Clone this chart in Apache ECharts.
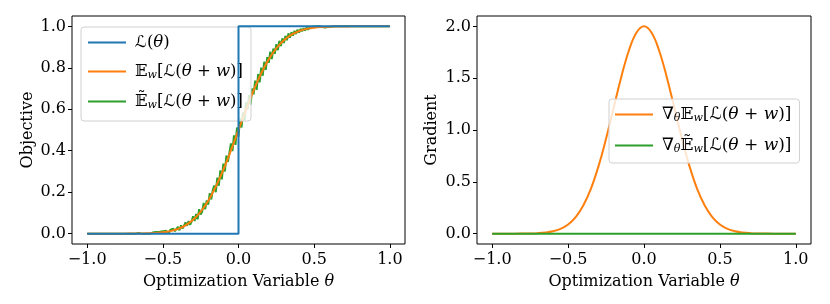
<!DOCTYPE html>
<html><head><meta charset="utf-8">
<script src="https://cdn.jsdelivr.net/npm/echarts@6/dist/echarts.min.js"></script>
<style>html,body{margin:0;padding:0;background:#fff}#c{width:830px;height:304px}</style>
</head><body><div id="c"></div>
<script>
// ---- data ----
var xTicks = [-1.0, -0.5, 0.0, 0.5, 1.0];
var yTicksLeft = [0.0, 0.2, 0.4, 0.6, 0.8, 1.0];
var yTicksRight = [0.0, 0.5, 1.0, 1.5, 2.0];

var stepX = [-1.0, 0.0, 0.0, 1.0];
var stepY = [0.0, 0.0, 1.0, 1.0];

var smoothX = [-1.0,-0.95,-0.9,-0.85,-0.8,-0.75,-0.7,-0.65,-0.6,-0.55,-0.5,-0.45,-0.4,-0.35,-0.3,-0.25,-0.2,-0.15,-0.1,-0.05,0.0,
  0.05,0.1,0.15,0.2,0.25,0.3,0.35,0.4,0.45,0.5,0.55,0.6,0.65,0.7,0.75,0.8,0.85,0.9,0.95,1.0];
var smoothY = [0,0,0,0,0,0,0.0002,0.0006,0.0013,0.0030,0.0062,0.0122,0.0228,0.0401,0.0668,0.1056,0.1587,0.2266,0.3085,0.4013,0.5,
  0.5987,0.6915,0.7734,0.8413,0.8944,0.9332,0.9599,0.9772,0.9878,0.9938,0.9970,0.9987,0.9994,0.9998,1,1,1,1,1,1];

var noisyX = [-1.0,
  -0.70,-0.69,-0.68,-0.67,-0.66,-0.65,-0.64,-0.63,-0.62,-0.61,
  -0.60,-0.59,-0.58,-0.57,-0.56,-0.55,-0.54,-0.53,-0.52,-0.51,
  -0.50,-0.49,-0.48,-0.47,-0.46,-0.45,-0.44,-0.43,-0.42,-0.41,
  -0.40,-0.39,-0.38,-0.37,-0.36,-0.35,-0.34,-0.33,-0.32,-0.31,
  -0.30,-0.29,-0.28,-0.27,-0.26,-0.25,-0.24,-0.23,-0.22,-0.21,
  -0.20,-0.19,-0.18,-0.17,-0.16,-0.15,-0.14,-0.13,-0.12,-0.11,
  -0.10,-0.09,-0.08,-0.07,-0.06,-0.05,-0.04,-0.03,-0.02,-0.01,
  0.00,0.01,0.02,0.03,0.04,0.05,0.06,0.07,0.08,0.09,
  0.10,0.11,0.12,0.13,0.14,0.15,0.16,0.17,0.18,0.19,
  0.20,0.21,0.22,0.23,0.24,0.25,0.26,0.27,0.28,0.29,
  0.30,0.31,0.32,0.33,0.34,0.35,0.36,0.37,0.38,0.39,
  0.40,0.41,0.42,0.43,0.44,0.45,0.46,0.47,0.48,0.49,
  0.50,0.51,0.52,0.53,0.54,0.55,0.56,0.57,0.58,0.59,
  0.60,0.61,0.62,0.63,0.64,0.65,0.66,0.67,0.68,0.69,
  0.70,1.0];
var noisyY = [0.000,
  0.000,0.002,0.000,0.000,0.003,0.001,0.000,0.004,0.000,0.002,
  0.000,0.005,0.001,0.000,0.007,0.002,0.008,0.000,0.009,0.003,
  0.011,0.002,0.014,0.006,0.004,0.019,0.010,0.024,0.012,0.017,
  0.033,0.016,0.040,0.024,0.030,0.054,0.038,0.061,0.042,0.058,
  0.084,0.061,0.095,0.069,0.118,0.092,0.107,0.148,0.118,0.160,
  0.140,0.195,0.165,0.210,0.232,0.200,0.270,0.231,0.305,0.262,
  0.338,0.300,0.377,0.346,0.352,0.435,0.398,0.474,0.428,0.512,
  0.468,0.556,0.512,0.585,0.548,0.634,0.600,0.668,0.622,0.700,
  0.672,0.738,0.694,0.770,0.730,0.801,0.762,0.829,0.790,0.852,
  0.824,0.878,0.842,0.893,0.868,0.914,0.885,0.930,0.905,0.942,
  0.920,0.954,0.933,0.966,0.945,0.972,0.955,0.978,0.963,0.984,
  0.970,0.988,0.976,0.991,0.980,0.995,0.984,0.996,0.987,0.998,
  0.989,0.999,0.992,1.000,0.994,0.998,1.000,0.995,1.000,0.997,
  1.000,0.998,1.000,1.000,0.997,1.000,0.999,1.000,0.998,1.000,
  1.000,1.000];

var gradX = smoothX;
var gradY = [0,0,0,0,0.0007,0.0018,0.0044,0.0102,0.0222,0.0456,0.0879,0.159,0.271,0.432,0.649,0.916,1.213,1.510,1.765,1.938,2.0,
  1.938,1.765,1.510,1.213,0.916,0.649,0.432,0.271,0.159,0.0879,0.0456,0.0222,0.0102,0.0044,0.0018,0.0007,0,0,0,0];
var gradNoisyX = [-1.0, 1.0];
var gradNoisyY = [0.0, 0.0];

// ---- build ----
function pairs(xs, ys){ return xs.map(function(x,i){ return [x, ys[i]]; }); }
var FONT = '"DejaVu Serif","DejaVu Sans","Noto Sans",serif';
var BLUE = '#1f77b4', ORANGE = '#ff7f0e', GREEN = '#2ca02c';
function fmt(v){ return (v < 0 ? '\u2212' : '') + Math.abs(v).toFixed(1); }
var nameRich = {i:{fontFamily:FONT, fontSize:16, fontStyle:'italic', color:'#000'}};

function xAx(i){
  return {type:'value', gridIndex:i, min:-1.1, max:1.1,
    name:'Optimization Variable {i|\u03b8}', nameLocation:'middle', nameGap:30,
    nameTextStyle:{fontFamily:FONT, fontSize:16, color:'#000', rich:nameRich},
    axisLine:{show:false, onZero:false}, splitLine:{show:false},
    axisTick:{show:true, inside:false, length:4, lineStyle:{color:'#000'}, customValues:xTicks},
    axisLabel:{fontFamily:FONT, fontSize:16, color:'#000', margin:8, customValues:xTicks, formatter:fmt}};
}
function yAx(i, ticks, mn, mx, nm, gap){
  return {type:'value', gridIndex:i, min:mn, max:mx,
    name:nm, nameLocation:'middle', nameGap:gap, nameRotate:90,
    nameTextStyle:{fontFamily:FONT, fontSize:16, color:'#000'},
    axisLine:{show:false, onZero:false}, splitLine:{show:false},
    axisTick:{show:true, inside:false, length:4, lineStyle:{color:'#000'}, customValues:ticks},
    axisLabel:{fontFamily:FONT, fontSize:16, color:'#000', margin:6, customValues:ticks, formatter:fmt}};
}
function mkRich(sz){
  return {
    n:{fontFamily:FONT, fontSize:sz, color:'#000'},
    i:{fontFamily:FONT, fontSize:sz, fontStyle:'italic', color:'#000'},
    s:{fontFamily:FONT, fontSize:11, fontStyle:'italic', color:'#000', verticalAlign:'bottom', padding:[8,0,0,0]}
  };
}
var labels = {
  'L':  '{n|\u2112(}{i|\u03b8}{n|)}',
  'E':  '{n|\ud835\udd3c}{s|w}{n|[\u2112(}{i|\u03b8}{n| + }{i|w}{n|)]}',
  'Et': '{n|\ud835\udd3c\u0303}{s|w}{n|[\u2112(}{i|\u03b8}{n| + }{i|w}{n|)]}',
  'G':  '{n|\u2207}{s|\u03b8}{n|\ud835\udd3c}{s|w}{n|[\u2112(}{i|\u03b8}{n| + }{i|w}{n|)]}',
  'Gt': '{n|\u2207}{s|\u03b8}{n|\ud835\udd3c\u0303}{s|w}{n|[\u2112(}{i|\u03b8}{n| + }{i|w}{n|)]}'
};
function legend(data, left, top, gap, pad, sz){
  return {data:data, orient:'vertical', left:left, top:top, icon:'rect', itemWidth:38, itemHeight:2,
    itemGap:gap, padding:pad, backgroundColor:'rgba(255,255,255,0.8)', borderColor:'#d0d0d0',
    borderWidth:1, borderRadius:3, selectedMode:false,
    formatter:function(n){ return labels[n]; },
    textStyle:{rich:mkRich(sz), fontFamily:FONT, fontSize:sz, color:'#000', padding:[0,0,0,4]}};
}
function line(name, xi, data, color, z, smooth, w){
  return {name:name, type:'line', xAxisIndex:xi, yAxisIndex:xi, data:data, symbol:'none',
    smooth:smooth||false, z:z, lineStyle:{color:color, width:w||2}, itemStyle:{color:color},
    animation:false, silent:true};
}
var chart = echarts.init(document.getElementById('c'), null, {renderer:'canvas'});
chart.setOption({
  animation:false,
  grid:[
    {left:72, top:16, width:333, height:228, show:true, borderColor:'#000', borderWidth:1, containLabel:false},
    {left:477, top:16, width:334, height:228, show:true, borderColor:'#000', borderWidth:1, containLabel:false}
  ],
  xAxis:[xAx(0), xAx(1)],
  yAxis:[yAx(0, yTicksLeft, -0.05, 1.05, 'Objective', 36), yAx(1, yTicksRight, -0.1, 2.1, 'Gradient', 37)],
  legend:[legend(['L','E','Et'], 81, 27, 12, [7,8,10,7], 16.5), legend(['G','Gt'], 609, 99, 13, [7,8,8,6], 17)],
  series:[
    line('Et', 0, pairs(noisyX, noisyY), GREEN, 2, false, 2),
    line('E', 0, pairs(smoothX, smoothY), ORANGE, 3, 0.4),
    line('L', 0, pairs(stepX, stepY), BLUE, 4),
    line('G', 1, pairs(gradX, gradY), ORANGE, 3, 0.4),
    line('Gt', 1, pairs(gradNoisyX, gradNoisyY), GREEN, 4)
  ]
});
</script></body></html>
